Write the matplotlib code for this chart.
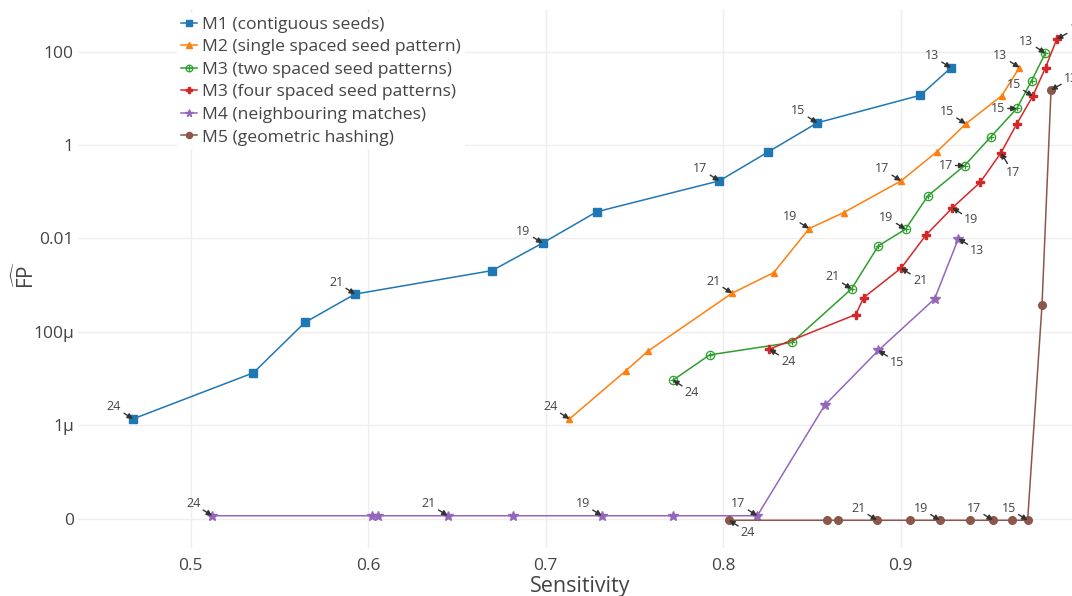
import numpy as np
import matplotlib
matplotlib.use("Agg")
import matplotlib.pyplot as plt

plt.rcParams['font.family'] = ['Open Sans', 'DejaVu Sans']
plt.rcParams['mathtext.fontset'] = 'custom'
plt.rcParams['mathtext.rm'] = 'Open Sans'

# ---------------------------------------------------------
# data: sensitivity and FP per seed length (24 .. 13)
# ---------------------------------------------------------
seed_len = [24, 23, 22, 21, 20, 19, 18, 17, 16, 15, 14, 13]
labelled = [24, 21, 19, 17, 15, 13]

m1_sens = [0.4676, 0.5354, 0.5644, 0.5927, 0.6699, 0.6983, 0.7288, 0.7979, 0.8252, 0.8531, 0.9112, 0.9284]
m1_fp = [1.36e-6, 1.32e-5, 1.58e-4, 6.4e-4, 2.04e-3, 7.9e-3, 0.037, 0.17, 0.70, 2.97, 11.6, 44.8]

m2_sens = [0.7135, 0.7452, 0.7577, 0.8051, 0.8286, 0.8485, 0.868, 0.9003, 0.9204, 0.9368, 0.9571, 0.967]
m2_fp = [1.36e-6, 1.46e-5, 3.85e-5, 6.7e-4, 1.85e-3, 0.0162, 0.0357, 0.170, 0.711, 2.83, 11.4, 45.4]

m3a_sens = [0.7718, 0.7925, 0.8388, 0.8724, 0.8875, 0.9028, 0.9154, 0.9361, 0.951, 0.9655, 0.9739, 0.9816]
m3a_fp = [9.2e-6, 3.2e-5, 5.9e-5, 8.3e-4, 6.9e-3, 0.0157, 0.081, 0.362, 1.51, 6.03, 23.9, 92.5]

m3b_sens = [0.8261, 0.8747, 0.8793, 0.9003, 0.9143, 0.9292, 0.9448, 0.9566, 0.9656, 0.9745, 0.9817, 0.988]
m3b_fp = [4.24e-5, 2.33e-4, 5.4e-4, 2.3e-3, 0.0117, 0.045, 0.157, 0.678, 2.87, 11.1, 45.4, 184.5]

m4_sens = [0.5122, 0.6022, 0.6057, 0.6449, 0.6817, 0.7317, 0.7717, 0.8193, 0.8573, 0.8875, 0.9192, 0.9326]
m4_fp = [0, 0, 0, 0, 0, 0, 0, 0, 2.68e-6, 3.98e-5, 5.06e-4, 9.9e-3]

m5_sens = [0.8034, 0.8586, 0.8646, 0.8868, 0.9053, 0.9221, 0.9393, 0.9521, 0.9628, 0.9716, 0.9797, 0.9848]
m5_fp = [0, 0, 0, 0, 0, 0, 0, 0, 0, 0, 3.7e-4, 15.1]

y_ticks = [1e2, 1, 1e-2, 1e-4, 1e-6, 1e-8]
y_tick_labels = ["100", "1", "0.01", "100μ", "1μ", "0"]
x_ticks = [0.5, 0.6, 0.7, 0.8, 0.9]

# label offsets in pixels (dx, dy up)
UL, LR, L, UR, D = (-19, 12), (19, -12), (-19, 0), (20, 11), (12, -20)

TXT = '#444444'

fig = plt.figure(figsize=(10.72, 5.96), dpi=100)
ax = fig.add_axes([78 / 1072, 48 / 596, 994 / 1072, 539 / 596])

def zero_pos(fp, floor):
    fp = np.array(fp, dtype=float)
    return np.where(fp == 0, floor, fp)

series = [
    ("M1 (contiguous seeds)", m1_sens, m1_fp, '#1f77b4', 's', 6, 1e-8, [UL] * 6),
    ("M2 (single spaced seed pattern)", m2_sens, m2_fp, '#ff7f0e', '^', 5, 1e-8, [UL] * 6),
    ("M3 (two spaced seed patterns)", m3a_sens, m3a_fp, '#2ca02c', 'o', 6, 1e-8, [LR, UL, UL, L, L, UL]),
    ("M3 (four spaced seed patterns)", m3b_sens, m3b_fp, '#d62728', 'P', 6, 1e-8, [LR, LR, LR, D, UL, UR]),
    ("M4 (neighbouring matches)", m4_sens, m4_fp, '#9467bd', '*', 7, 1.15e-8, [UL, UL, UL, UL, LR, LR]),
    ("M5 (geometric hashing)", m5_sens, m5_fp, '#8c564b', 'o', 5.5, 0.92e-8, [LR, UL, UL, UL, UL, UR]),
]

handles = []
for name, xs, fp, col, mk, ms, floor, offs in series:
    ys = zero_pos(fp, floor)
    if name.startswith("M3 (two"):
        ln, = ax.plot(xs, ys, color=col, lw=1.1, marker='o', ms=ms, mfc='none', mec=col, mew=0.9)
        cr, = ax.plot(xs, ys, ls='none', color=col, marker='+', ms=ms - 1, mew=0.9)
        handles.append((ln, cr))
    else:
        ln, = ax.plot(xs, ys, color=col, lw=1.1, marker=mk, ms=ms, mec=col)
        handles.append(ln)
    for lab, off in zip(labelled, offs):
        i = seed_len.index(lab)
        ax.annotate(str(lab), xy=(xs[i], ys[i]), xytext=off, textcoords='offset pixels',
                    ha='center', va='center', fontsize=9, color=TXT, zorder=10,
                    arrowprops=dict(arrowstyle='-|>', color='#333333', lw=1.0,
                                    mutation_scale=8, shrinkA=0, shrinkB=0))

ax.set_yscale('log')
ax.set_xlim(0.4366, 0.9966)
ax.set_ylim(10 ** -8.63, 10 ** 2.91)
ax.set_yticks(y_ticks)
ax.set_yticklabels(y_tick_labels)
ax.minorticks_off()
ax.set_xticks(x_ticks)
ax.set_xticklabels([str(v) for v in x_ticks])
ax.tick_params(length=0, labelsize=12.5, labelcolor=TXT)
ax.tick_params(axis='y', pad=3)
ax.tick_params(axis='x', pad=7)
ax.grid(True, color='#eeeeee', lw=1)
ax.set_axisbelow(True)
for s in ax.spines.values():
    s.set_visible(False)

fig.text(580 / 1072, 1 - 592 / 596, "Sensitivity", ha='center', va='baseline',
         fontsize=15.5, color=TXT)
fig.text(26 / 1072, 1 - 275 / 596, r"$\widehat{\mathrm{FP}}$", ha='center', va='center',
         rotation=90, fontsize=15, color=TXT)

leg = fig.legend(handles, [s[0] for s in series], loc='upper left',
                 bbox_to_anchor=(177 / 1072, 1 - 13 / 596), borderaxespad=0,
                 fontsize=12.6, frameon=True, facecolor='white', edgecolor='none',
                 framealpha=1, handlelength=0.95, handletextpad=0.3, labelspacing=0.36,
                 borderpad=0.2, markerscale=0.8)
for t in leg.get_texts():
    t.set_color(TXT)
leg.get_frame().set_boxstyle('square', pad=0)

fig.savefig("out.png", dpi=100)
